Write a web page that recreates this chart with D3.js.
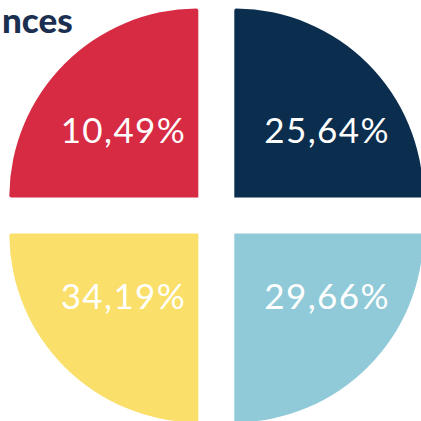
<!DOCTYPE html>
<html><head><meta charset="utf-8">
<script src="https://cdn.jsdelivr.net/npm/d3@7"></script>
<style>html,body{margin:0;padding:0;background:#fff;overflow:hidden}</style>
</head><body><svg id="c" width="421" height="421"></svg>
<script>
const categories = ["A", "B", "C", "D"];
const values = [10.49, 25.64, 29.66, 34.19];
const labels = ["10,49%", "25,64%", "29,66%", "34,19%"];
const colors = ["#D62B43", "#0B2D4E", "#90CAD8", "#FADF6A"];
const titleText = "nces";

const svg = d3.select("#c");
const cx = 216.3, cy = 215.4, gap = 18, R = 189;

svg.append("text").attr("x", 2).attr("y", 33).attr("text-anchor", "start")
  .attr("font-family", "Lato").attr("font-weight", 900).attr("font-size", 35)
  .attr("fill", "#1B3050").text(titleText);

// each category occupies one quadrant, clockwise from top-left
const angle = d3.scaleBand().domain(categories).range([-Math.PI / 2, 3 * Math.PI / 2]);
const arc = d3.arc().innerRadius(0).outerRadius(R).cornerRadius(2);

const data = categories.map((c, i) => ({ c, v: values[i], label: labels[i], color: colors[i],
  startAngle: angle(c), endAngle: angle(c) + angle.bandwidth() }));

const g = svg.selectAll("g.q").data(data).enter().append("g").attr("class", "q")
  .attr("transform", d => {
    const m = (d.startAngle + d.endAngle) / 2;
    const sx = Math.sign(Math.sin(m)), sy = -Math.sign(Math.cos(m));
    return `translate(${cx + sx * gap},${cy + sy * gap})`;
  });
g.append("path").attr("d", arc).attr("fill", d => d.color);
g.append("text")
  .attr("x", d => { const c = arc.centroid(d); return c[0] + (c[0] < 0 ? -8 : 26); })
  .attr("y", d => { const c = arc.centroid(d); return c[1] + (c[1] < 0 ? 0 : -3); })
  .attr("dy", "0.35em").attr("text-anchor", "middle")
  .attr("font-family", "Lato").attr("font-weight", 400).attr("font-size", 35)
  .attr("letter-spacing", 1.4).attr("fill", "#fff")
  .text(d => d.label);
</script></body></html>
